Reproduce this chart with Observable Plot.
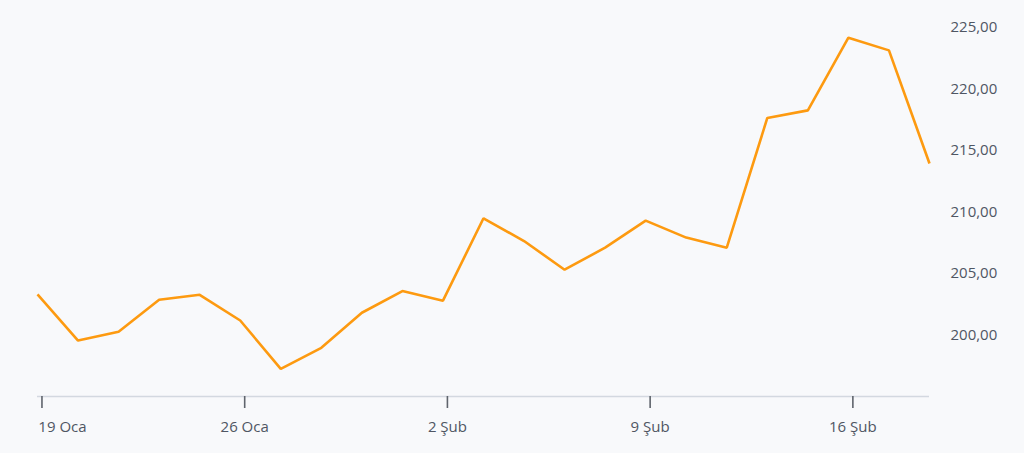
<!DOCTYPE html>
<html>
<head>
<meta charset="utf-8">
<script src="https://cdn.jsdelivr.net/npm/d3@7"></script>
<script src="https://cdn.jsdelivr.net/npm/@observablehq/plot@0.6"></script>
<style>
  html, body { margin: 0; padding: 0; background: #f8f9fb; }
  #chart svg { display: block; }
</style>
</head>
<body>
<div id="chart"></div>
<script>
// Business days (weekdays only)
const dates = [
  "2026-01-19","2026-01-20","2026-01-21","2026-01-22","2026-01-23",
  "2026-01-26","2026-01-27","2026-01-28","2026-01-29","2026-01-30",
  "2026-02-02","2026-02-03","2026-02-04","2026-02-05","2026-02-06",
  "2026-02-09","2026-02-10","2026-02-11","2026-02-12","2026-02-13",
  "2026-02-16","2026-02-17","2026-02-18"
];
const values = [
  203.30, 199.55, 200.26, 202.87, 203.27,
  201.18, 197.25, 198.96, 201.81, 203.57,
  202.79, 209.49, 207.64, 205.31, 207.10,
  209.30, 207.92, 207.10, 217.65, 218.26,
  224.17, 223.14, 213.94
];
const xTickDates = ["2026-01-19","2026-01-26","2026-02-02","2026-02-09","2026-02-16"];
const xTickLabels = ["19 Oca","26 Oca","2 Şub","9 Şub","16 Şub"];
const yTicks = [200, 205, 210, 215, 220, 225];

const data = dates.map((d, i) => ({i, date: d, value: values[i]}));
const tickOffset = 0.11; // ticks sit slightly after the day's point (timezone shift)
const xTicks = xTickDates.map(d => dates.indexOf(d) + tickOffset);
const labelOf = new Map(xTicks.map((t, k) => [t, xTickLabels[k]]));
const fmtY = v => v.toLocaleString("tr-TR", {minimumFractionDigits: 2, maximumFractionDigits: 2});

const font = "'Open Sans', 'Noto Sans', sans-serif";
const textColor = "#4f5663";

const chart = Plot.plot({
  width: 1024,
  height: 453,
  marginLeft: 37,
  marginRight: 95,
  marginTop: 27,
  marginBottom: 57,
  style: {background: "#f8f9fb", fontFamily: font, fontSize: "15px", color: textColor},
  x: {type: "linear", domain: [0, dates.length - 1], axis: null, label: null},
  y: {domain: [195, 225], axis: null, label: null},
  marks: [
    Plot.ruleY([195], {stroke: "#d3d8e0", strokeWidth: 1.5}),
    // tick marks
    Plot.axisX(xTicks, {anchor: "bottom", label: null, tickSize: 12, fill: "none", stroke: "#5f646c", strokeWidth: 1.6, strokeOpacity: 1}),
    // first label, clamped to the left edge
    Plot.axisX([xTicks[0]], {anchor: "bottom", label: null, tickSize: 0, tickPadding: 25, tickFormat: t => labelOf.get(t), textAnchor: "start", dx: -3.6, fill: textColor}),
    // remaining labels
    Plot.axisX(xTicks.slice(1), {anchor: "bottom", label: null, tickSize: 0, tickPadding: 25, tickFormat: t => labelOf.get(t), fill: textColor}),
    Plot.axisY(yTicks, {anchor: "right", label: null, tickSize: 0, tickPadding: 21, tickFormat: fmtY, fill: textColor}),
    Plot.line(data, {x: "i", y: "value", stroke: "#fd9a10", strokeWidth: 2.6, strokeLinejoin: "miter", strokeLinecap: "butt"})
  ]
});
document.getElementById("chart").appendChild(chart);
</script>
</body>
</html>
